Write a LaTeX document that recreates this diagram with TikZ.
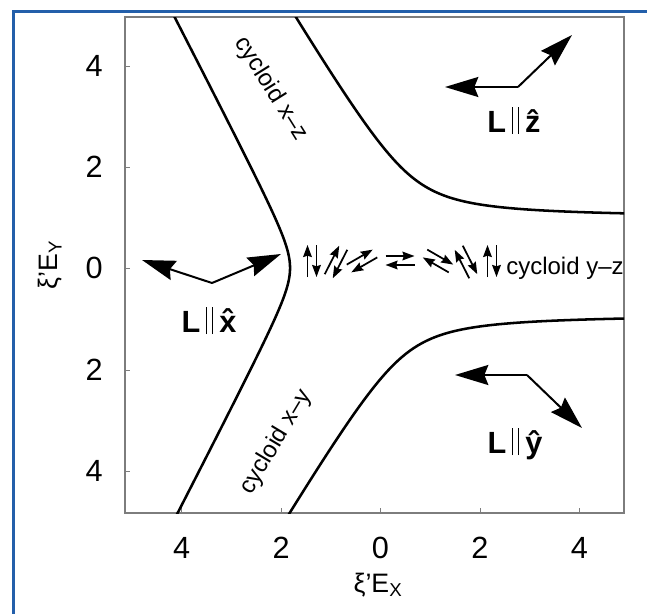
\documentclass[tikz,border=0pt]{standalone}
\usepackage{fontspec}
\setmainfont{Liberation Sans}
\usetikzlibrary{arrows.meta}
\definecolor{bord}{RGB}{35,95,170}
\definecolor{framegray}{RGB}{125,125,125}
\newcommand\Lbars{\hspace{4pt}\rule[-1.5pt]{0.9pt}{20pt}\hspace{4pt}\rule[-1.5pt]{0.9pt}{20pt}\hspace{4.5pt}}
\newcommand\spinpair[5]{%
  \begin{scope}[shift={(#1,#2)}, x=0.75pt, y=0.75pt, rotate=#3]
    \coordinate (#5a1) at (-#4/2,4.5); \coordinate (#5a2) at (#4/2,4.5);
    \coordinate (#5b1) at (#4/2,-4.5); \coordinate (#5b2) at (-#4/2,-4.5);
    \draw[spin] (#5a1) -- (#5a2);
    \draw[spin] (#5b1) -- (#5b2);
  \end{scope}}
\begin{document}
\begin{tikzpicture}[x=0.75pt,y=-0.75pt,
  curve/.style={line width=1.9pt},
  bigarrow/.style={line width=1.5pt,-{Stealth[length=25pt,width=15pt,inset=3pt]}},
  spin/.style={line width=1.3pt,-{Stealth[length=9pt,width=6.5pt,inset=1pt]}},
  ticklab/.style={font=\fontsize{23}{23}\selectfont, inner sep=0pt},
  axlab/.style={font=\fontsize{20}{20}\selectfont, inner sep=0pt},
  cyc/.style={font=\fontsize{18}{18}\selectfont, inner sep=0pt},
  Llab/.style={font=\fontsize{23}{23}\selectfont\bfseries, anchor=base, inner sep=0pt}
]
\useasboundingbox (0,0) rectangle (647,614);
\fill[white] (0,0) rectangle (647,614);
\draw[bord, line width=2.25pt] (13.5,614) -- (13.5,11) -- (647,11);

% frame and ticks
\draw[framegray, line width=0.8pt] (125,17) rectangle (624,513);
\foreach \xx in {181.7,281.1,380.5,479.9,579.3} \draw[framegray, line width=0.6pt] (\xx,513) -- (\xx,508);
\foreach \yy in {66,167,268,370,471} \draw[framegray, line width=0.6pt] (125,\yy) -- (130,\yy);

% tick labels
\node[ticklab] (bx1) at (181.7,548) {4};
\node[ticklab] (bx2) at (281.1,548) {2};
\node[ticklab] (bx3) at (380.5,548) {0};
\node[ticklab] (bx4) at (479.9,548) {2};
\node[ticklab] (bx5) at (579.3,548) {4};
\node[ticklab, anchor=east] (ly1) at (103,66) {4};
\node[ticklab, anchor=east] (ly2) at (103,167) {2};
\node[ticklab, anchor=east] (ly3) at (103,268) {0};
\node[ticklab, anchor=east] (ly4) at (103,370) {2};
\node[ticklab, anchor=east] (ly5) at (103,471) {4};

% axis labels
\node[axlab] (xlab) at (378,585) {ξ’E\textsubscript{X}};
\node[axlab, rotate=90] (ylab) at (50,265) {ξ’E\textsubscript{Y}};

% curves
\begin{scope}
\clip (125,17) rectangle (624,513);
\begin{scope}[shift={(380.5,268)}, x=37.275pt, y=37.275pt]
\draw[curve] plot[domain=-5.6:5.6, samples=120, smooth, variable=\t] ({-1.52-sqrt(0.09+0.2663*\t*\t)},{\t});
\draw[curve] plot[domain=-2.6:1.6, samples=150, smooth, variable=\t] ({0.6-exp(\t)/1.68+0.436/exp(\t)},{1+exp(\t)});
\draw[curve] plot[domain=-2.6:1.6, samples=150, smooth, variable=\t] ({0.45-exp(\t)/1.68+0.436/exp(\t)},{-0.92-exp(\t)});
\end{scope}
\end{scope}

% cycloid labels
\node[cyc, rotate=-58] (cxz) at (271,89) {cycloid x–z};
\node[cyc, rotate=59] (cxy) at (276,442) {cycloid x–y};
\node[cyc, anchor=west] (cyz) at (506,268) {cycloid y–z};

% spin arrows along the y-z cycloid
\spinpair{312}{261}{90}{32}{p1}
\spinpair{336}{262}{63}{32}{p2}
\spinpair{362}{261}{30}{30}{p3}
\spinpair{400}{260.5}{0}{29}{p4}
\spinpair{438}{261}{-30}{30}{p5}
\spinpair{466}{262}{-63}{32}{p6}
\spinpair{492}{261}{-90}{32}{p7}

% L || x
\coordinate (xv) at (212,283); \coordinate (xl) at (142,260); \coordinate (xr) at (281,254);
\draw[bigarrow] (xv) -- (xl);
\draw[bigarrow] (xv) -- (xr);
\node[Llab] (Lx) at (209,332) {L\Lbars\^{x}};

% L || z
\coordinate (zv) at (518,87); \coordinate (zl) at (445,87); \coordinate (zr) at (572,35);
\draw[bigarrow] (zv) -- (zl);
\draw[bigarrow] (zv) -- (zr);
\node[Llab] (Lz) at (514,132) {L\Lbars\^{z}};

% L || y
\coordinate (yv) at (527,375); \coordinate (yl) at (455,375); \coordinate (yr) at (582,428);
\draw[bigarrow] (yv) -- (yl);
\draw[bigarrow] (yv) -- (yr);
\node[Llab] (Ly) at (515,453) {L\Lbars\^{y}};
\end{tikzpicture}
\end{document}
